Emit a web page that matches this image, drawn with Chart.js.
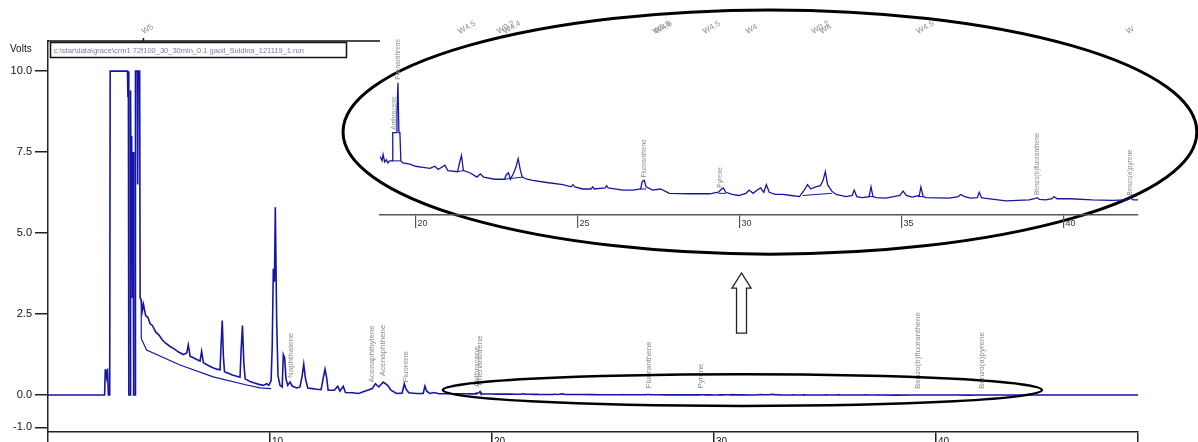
<!DOCTYPE html>
<html>
<head>
<meta charset="utf-8">
<title>crm1 72f100 run</title>
<script src="https://cdn.jsdelivr.net/npm/chart.js@4.4.0/dist/chart.umd.min.js"></script>
<style>
  html, body { margin: 0; padding: 0; background: #fff; overflow: hidden; }
  #wrap { position: relative; width: 1198px; height: 442px; overflow: hidden; }
  #wrap canvas { position: absolute; left: 0; top: 0; }
  #inset { pointer-events: none; }
</style>
</head>
<body>
<div id="wrap">
  <canvas id="trace" width="1198" height="460"></canvas>
  <canvas id="inset" width="1198" height="460"></canvas>
</div>
<script>
// retention time (min) / detector signal (V), start of run up to 18.5 min
const mainTimes = [
  0, 2.55, 2.58, 2.64, 2.68, 2.72, 2.78, 2.8,
  3.58, 3.6, 3.62, 3.64, 3.7, 3.72, 3.74, 3.77,
  3.8, 3.83, 3.86, 3.92, 3.94, 4.02, 4.04, 4.06,
  4.13, 4.15, 4.2, 4.25, 4.3, 4.4, 4.5, 4.6,
  4.7, 4.85, 5.0, 5.15, 5.3, 5.5, 5.7, 5.9,
  6.1, 6.25, 6.32, 6.4, 6.55, 6.7, 6.85, 6.92,
  7.0, 7.2, 7.4, 7.6, 7.75, 7.8, 7.85, 7.9,
  7.95, 8.1, 8.3, 8.5, 8.65, 8.7, 8.76, 8.82,
  8.88, 9.1, 9.3, 9.5, 9.7, 9.85, 9.95, 10.05,
  10.1, 10.15, 10.2, 10.24, 10.3, 10.36, 10.45, 10.55,
  10.6, 10.66, 10.72, 10.8, 10.9, 11.0, 11.2, 11.35,
  11.45, 11.52, 11.6, 11.7, 11.9, 12.1, 12.3, 12.42,
  12.48, 12.55, 12.62, 12.9, 13.05, 13.15, 13.3, 13.4,
  13.7, 14.0, 14.2, 14.4, 14.6, 14.75, 14.9, 15.1,
  15.3, 15.45, 15.7, 15.95, 16.05, 16.12, 16.25, 16.6,
  16.9, 16.98, 17.06, 17.2, 17.4, 17.6, 18.0, 18.5
];
const mainVolts = [
  0, 0, 0.8, 0.55, 0.82, 0, 0, 10,
  10, 9.2, 10, 0, 0, 9.4, 6.0, 8.0,
  3.0, 7.5, 0, 0, 10, 10, 6.5, 10,
  10, 3.0, 2.95, 2.6, 2.8, 2.45, 2.4, 2.2,
  2.15, 1.95, 1.85, 1.7, 1.6, 1.5, 1.42, 1.32,
  1.25, 1.3, 1.55, 1.2, 1.15, 1.1, 1.05, 1.35,
  1.0, 0.92, 0.85, 0.8, 0.78, 1.6, 2.3, 1.2,
  0.72, 0.68, 0.62, 0.58, 0.55, 1.4, 2.15, 1.0,
  0.5, 0.42, 0.37, 0.33, 0.3, 0.35, 0.3, 0.45,
  1.5, 3.9, 3.5, 5.8, 2.3, 0.6, 0.3, 0.25,
  1.25, 1.15, 0.5, 0.3, 0.4, 0.28, 0.22, 0.25,
  0.6, 0.95, 0.5, 0.22, 0.2, 0.18, 0.17, 0.6,
  0.8, 0.55, 0.15, 0.15, 0.27, 0.12, 0.27, 0.08,
  0.07, 0.05, 0.1, 0.15, 0.2, 0.35, 0.25, 0.4,
  0.3, 0.15, 0.05, 0.06, 0.35, 0.2, 0.07, 0.05,
  0.05, 0.28, 0.12, 0.05, 0.08, 0.04, 0.04, 0.04
];

// 18.9 - 42.3 min, also shown enlarged in the zoom panel
const insetTimes = [
  18.91, 18.97, 19.0, 19.05, 19.1, 19.15, 19.2, 19.28,
  19.3, 19.4, 19.43, 19.46, 19.49, 19.52, 19.55, 19.61,
  19.83, 20.0, 20.23, 20.45, 20.6, 20.7, 20.91, 21.0,
  21.3, 21.36, 21.42, 21.48, 21.68, 21.9, 22.0, 22.1,
  22.45, 22.75, 22.8, 22.87, 22.93, 23.02, 23.1, 23.17,
  23.24, 23.3, 23.44, 23.62, 24.05, 24.55, 24.8, 24.86,
  24.92, 25.16, 25.42, 25.47, 25.52, 25.85, 25.9, 25.95,
  26.4, 26.7, 26.95, 27.0, 27.06, 27.12, 27.32, 27.56,
  27.84, 28.46, 29.08, 29.35, 29.45, 29.5, 29.58, 29.78,
  29.98, 30.2, 30.3, 30.42, 30.55, 30.65, 30.75, 30.83,
  30.92, 31.1, 31.33, 31.6, 31.85, 32.0, 32.1, 32.2,
  32.35, 32.5, 32.58, 32.65, 32.72, 32.85, 32.98, 33.29,
  33.48, 33.54, 33.62, 33.79, 34.0, 34.06, 34.12, 34.21,
  34.52, 34.95, 35.05, 35.15, 35.33, 35.55, 35.6, 35.67,
  35.75, 36.47, 36.75, 36.83, 36.95, 37.14, 37.34, 37.4,
  37.47, 37.55, 38.22, 38.94, 39.1, 39.18, 39.26, 39.45,
  39.65, 39.71, 39.8, 40.2, 40.88, 41.5, 41.95, 42.08,
  42.15, 42.3
];
const insetVolts = [
  0.040, 0.036, 0.042, 0.035, 0.037, 0.034, 0.036, 0.036,
  0.062, 0.062, 0.080, 0.108, 0.062, 0.062, 0.036, 0.034,
  0.033, 0.031, 0.030, 0.029, 0.031, 0.028, 0.032, 0.027,
  0.026, 0.034, 0.041, 0.027, 0.025, 0.021, 0.024, 0.021,
  0.019, 0.019, 0.023, 0.025, 0.019, 0.024, 0.030, 0.038,
  0.027, 0.021, 0.019, 0.018, 0.016, 0.014, 0.012, 0.014,
  0.012, 0.010, 0.010, 0.012, 0.010, 0.011, 0.013, 0.011,
  0.009, 0.009, 0.010, 0.017, 0.018, 0.012, 0.009, 0.010,
  0.006, 0.0056, 0.0056, 0.007, 0.010, 0.011, 0.007, 0.005,
  0.004, 0.006, 0.009, 0.006, 0.009, 0.011, 0.007, 0.014,
  0.007, 0.005, 0.005, 0.004, 0.003, 0.009, 0.014, 0.010,
  0.012, 0.013, 0.018, 0.026, 0.014, 0.008, 0.005, 0.003,
  0.004, 0.009, 0.003, 0.002, 0.003, 0.012, 0.003, 0.002,
  0.0015, 0.004, 0.008, 0.004, 0.0025, 0.004, 0.012, 0.003,
  0.002, 0.0015, 0.003, 0.005, 0.003, 0.0015, 0.002, 0.007,
  0.002, 0.0015, -0.001, 0.0, 0.001, 0.002, 0.0005, 0.0,
  0.001, 0.003, 0.001, 0.001, 0.0, -0.0005, 0.0, 0.0015,
  0.0, 0.0
];

// end of run
const tailTimes = [43.0, 49.1];
const tailVolts = [0, 0];

// integration baseline under the solvent tail
const decayBaseTimes = [4.2, 4.2, 4.44, 5.95, 7.44, 8.95, 9.55, 10.05];
const decayBaseVolts = [2.95, 1.75, 1.39, 0.93, 0.56, 0.31, 0.22, 0.2];

// integration baselines drawn under the later peaks
const baseStartTimes = [19.28, 21.3, 22.75, 26.95, 29.35, 31.95, 33.95, 35.5];
const baseEndTimes = [19.55, 21.48, 23.3, 27.12, 29.58, 32.85, 34.15, 35.7];
const baseStartVolts = [0.036, 0.026, 0.019, 0.010, 0.006, 0.004, 0.003, 0.003];
const baseEndVolts = [0.036, 0.027, 0.021, 0.010, 0.006, 0.006, 0.003, 0.003];

// identified compounds
const peakNames = ['Naphthalene', 'Acenaphthylene', 'Acenaphthene', 'Fluorene',
  'Phenanthrene', 'Anthracene', 'Fluoranthene', 'Pyrene',
  'Benzo(b)fluoranthene', 'Benzo(a)pyrene'];
const peakTimes = [10.95, 14.6, 15.1, 16.12, 19.46, 19.33, 27.05, 29.4, 39.2, 42.05];

// timed events
const eventTimes = [4.3];
const eventLabels = ['W5'];
const insetEventTimes = [21.37, 22.57, 22.76, 27.38, 27.44, 28.92, 30.25, 32.28, 32.53, 35.52, 41.99];
const insetEventLabels = ['W4.5', 'W0.2', 'W4.4', 'W6.6', 'W4.6', 'W4.5', 'W4', 'W0.2', 'W4', 'W4.5', 'W'];

// axis ticks
const voltTicks = [-1, 0, 2.5, 5, 7.5, 10];
const minuteTicks = [0, 10, 20, 30, 40, 49.1];
const insetMinuteTicks = [20, 25, 30, 35, 40];

const runFile = 'c:\\star\\data\\grace\\crm1 72f100_30_30min_0.1 gaoil_Suldina_121119_1.run';

const TRACE_BLUE = '#1616a6';
const LABEL_GREY = '#8c8c8c';
const FONT = "'Liberation Sans', Arial, sans-serif";

// callouts, in data units of the main plot
const rings = [
  { t: 32.52, v: 8.12, dt: 19.23, dv: 3.77, width: 3 },
  { t: 31.28, v: 0.154, dt: 13.49, dv: 0.49, width: 2.5 }
];
const arrow = { t: 31.24, tip: 3.77, neck: 3.30, tail: 1.91, shaft: 0.225, head: 0.43 };

const toPoints = (ts, vs) => ts.map((t, i) => ({ x: t, y: vs[i] }));

const fullTimes = mainTimes.concat(insetTimes, tailTimes);
const fullVolts = mainVolts.concat(insetVolts, tailVolts);

function valueAt(times, values, t) {
  for (let i = 1; i < times.length; i++) {
    if (times[i] >= t) {
      const span = times[i] - times[i - 1] || 1;
      const f = (t - times[i - 1]) / span;
      return values[i - 1] + f * (values[i] - values[i - 1]);
    }
  }
  return values[values.length - 1];
}

function drawPeakNames(chart, fontPx, gap) {
  const { ctx, scales: { x, y } } = chart;
  ctx.save();
  ctx.font = fontPx + 'px ' + FONT;
  ctx.fillStyle = LABEL_GREY;
  ctx.textAlign = 'left';
  ctx.textBaseline = 'middle';
  peakNames.forEach((name, i) => {
    const t = peakTimes[i];
    if (t < x.min || t > x.max) return;
    const px = x.getPixelForValue(t);
    const py = y.getPixelForValue(valueAt(fullTimes, fullVolts, t)) - gap;
    ctx.save();
    ctx.translate(px, py);
    ctx.rotate(-Math.PI / 2);
    ctx.fillText(name, 0, 0);
    ctx.restore();
  });
  ctx.restore();
}

function drawEvents(ctx, x, times, labels, baseY, fontPx) {
  ctx.save();
  ctx.font = fontPx + 'px ' + FONT;
  ctx.fillStyle = LABEL_GREY;
  ctx.textAlign = 'left';
  ctx.textBaseline = 'alphabetic';
  times.forEach((t, i) => {
    const px = x.getPixelForValue(t);
    ctx.save();
    ctx.translate(px, baseY);
    ctx.rotate(-0.52);
    ctx.fillText(labels[i], 0, 0);
    ctx.restore();
  });
  ctx.restore();
}

const mainDecor = {
  id: 'mainDecor',
  afterDraw(chart) {
    const { ctx, chartArea: area, scales: { x, y } } = chart;
    ctx.save();

    // axis title
    ctx.font = '10px ' + FONT;
    ctx.fillStyle = '#111';
    ctx.textAlign = 'left';
    ctx.fillText('Volts', 10, area.top + 11);

    // top rule with the event tick
    ctx.strokeStyle = '#111';
    ctx.lineWidth = 1.5;
    ctx.beginPath();
    ctx.moveTo(area.left, area.top);
    ctx.lineTo(380, area.top);
    eventTimes.forEach(t => {
      const px = x.getPixelForValue(t);
      ctx.moveTo(px, area.top);
      ctx.lineTo(px, area.top - 3);
    });
    ctx.stroke();
    drawEvents(ctx, x, eventTimes, eventLabels, area.top - 7, 8);

    // file name box
    ctx.lineWidth = 1.5;
    ctx.strokeStyle = '#111';
    ctx.strokeRect(area.left + 2.5, area.top + 1.5, 296, 15);
    ctx.font = '7.5px ' + FONT;
    ctx.fillStyle = '#7a7aa6';
    ctx.fillText(runFile, area.left + 6, area.top + 12);

    ctx.restore();

    drawPeakNames(chart, 8, 6);

    // zoom callouts
    ctx.save();
    ctx.strokeStyle = '#000';
    rings.forEach(r => {
      const cx = x.getPixelForValue(r.t);
      const cy = y.getPixelForValue(r.v);
      const rx = x.getPixelForValue(r.t + r.dt) - cx;
      const ry = cy - y.getPixelForValue(r.v + r.dv);
      ctx.lineWidth = r.width;
      ctx.beginPath();
      ctx.ellipse(cx, cy, rx, ry, 0, 0, Math.PI * 2);
      ctx.stroke();
    });

    const a = arrow;
    const pts = [
      [a.t - a.shaft, a.tail], [a.t - a.shaft, a.neck], [a.t - a.head, a.neck],
      [a.t, a.tip], [a.t + a.head, a.neck], [a.t + a.shaft, a.neck], [a.t + a.shaft, a.tail]
    ];
    ctx.beginPath();
    pts.forEach(([t, v], i) => {
      const px = x.getPixelForValue(t);
      const py = y.getPixelForValue(v);
      if (i === 0) ctx.moveTo(px, py); else ctx.lineTo(px, py);
    });
    ctx.closePath();
    ctx.fillStyle = '#fff';
    ctx.fill();
    ctx.lineWidth = 1.3;
    ctx.strokeStyle = '#222';
    ctx.stroke();
    ctx.restore();
  }
};

const insetDecor = {
  id: 'insetDecor',
  afterDatasetsDraw(chart) {
    drawPeakNames(chart, 6.5, 3);
    drawEvents(chart.ctx, chart.scales.x, insetEventTimes, insetEventLabels, chart.chartArea.top + 14, 8);
  }
};

new Chart(document.getElementById('trace'), {
  type: 'line',
  data: {
    datasets: [
      {
        data: toPoints(fullTimes, fullVolts),
        borderColor: TRACE_BLUE,
        borderWidth: 1.6,
        pointRadius: 0,
        tension: 0
      },
      {
        data: toPoints(decayBaseTimes, decayBaseVolts),
        borderColor: TRACE_BLUE,
        borderWidth: 1.2,
        pointRadius: 0,
        tension: 0
      }
    ]
  },
  options: {
    responsive: false,
    animation: false,
    events: [],
    layout: { padding: { left: 0, right: 60, top: 41, bottom: 0 } },
    plugins: { legend: { display: false }, tooltip: { enabled: false } },
    scales: {
      x: {
        type: 'linear',
        min: 0,
        max: 49.1,
        afterBuildTicks: s => { s.ticks = minuteTicks.map(v => ({ value: v })); },
        afterFit: s => { s.height = 28; },
        ticks: {
          autoSkip: false,
          maxRotation: 0,
          align: 'start',
          padding: -10,
          labelOffset: 2,
          color: '#111',
          font: { size: 10, family: FONT },
          callback: v => (v > 0 && v < 45 ? String(v) : '')
        },
        grid: { drawOnChartArea: false, tickLength: 14, lineWidth: 1.5, color: '#222' },
        border: { color: '#222', width: 1.5 }
      },
      y: {
        min: -1.14,
        max: 10.93,
        afterBuildTicks: s => { s.ticks = voltTicks.map(v => ({ value: v })); },
        afterFit: s => { s.width = 48; },
        ticks: {
          color: '#111',
          padding: 3,
          font: { size: 11, family: FONT },
          callback: v => v.toFixed(1)
        },
        grid: { drawOnChartArea: false, tickLength: 13, lineWidth: 1.5, color: '#222' },
        border: { color: '#222', width: 1.5 }
      }
    }
  },
  plugins: [mainDecor]
});

const insetBase = [];
baseStartTimes.forEach((t, i) => {
  insetBase.push({ x: t, y: baseStartVolts[i] });
  insetBase.push({ x: baseEndTimes[i], y: baseEndVolts[i] });
  insetBase.push({ x: baseEndTimes[i], y: null });
});

new Chart(document.getElementById('inset'), {
  type: 'line',
  data: {
    datasets: [
      {
        data: toPoints(insetTimes, insetVolts),
        borderColor: TRACE_BLUE,
        borderWidth: 1.3,
        pointRadius: 0,
        tension: 0
      },
      {
        data: insetBase,
        borderColor: TRACE_BLUE,
        borderWidth: 1,
        pointRadius: 0,
        tension: 0,
        spanGaps: false
      }
    ]
  },
  options: {
    responsive: false,
    animation: false,
    events: [],
    layout: { padding: { left: 380, right: 60, top: 20, bottom: 225 } },
    plugins: { legend: { display: false }, tooltip: { enabled: false } },
    scales: {
      x: {
        type: 'linear',
        min: 18.906,
        max: 42.3,
        afterBuildTicks: s => { s.ticks = insetMinuteTicks.map(v => ({ value: v })); },
        afterFit: s => { s.height = 20; },
        ticks: {
          autoSkip: false,
          maxRotation: 0,
          align: 'start',
          padding: -10,
          labelOffset: 2,
          color: '#333',
          font: { size: 9, family: FONT },
          callback: v => String(v)
        },
        grid: { drawOnChartArea: false, tickLength: 13, lineWidth: 1.2, color: '#555' },
        border: { color: '#555', width: 1.5 }
      },
      y: { display: false, min: -0.014, max: 0.166 }
    }
  },
  plugins: [insetDecor]
});
</script>
</body>
</html>
